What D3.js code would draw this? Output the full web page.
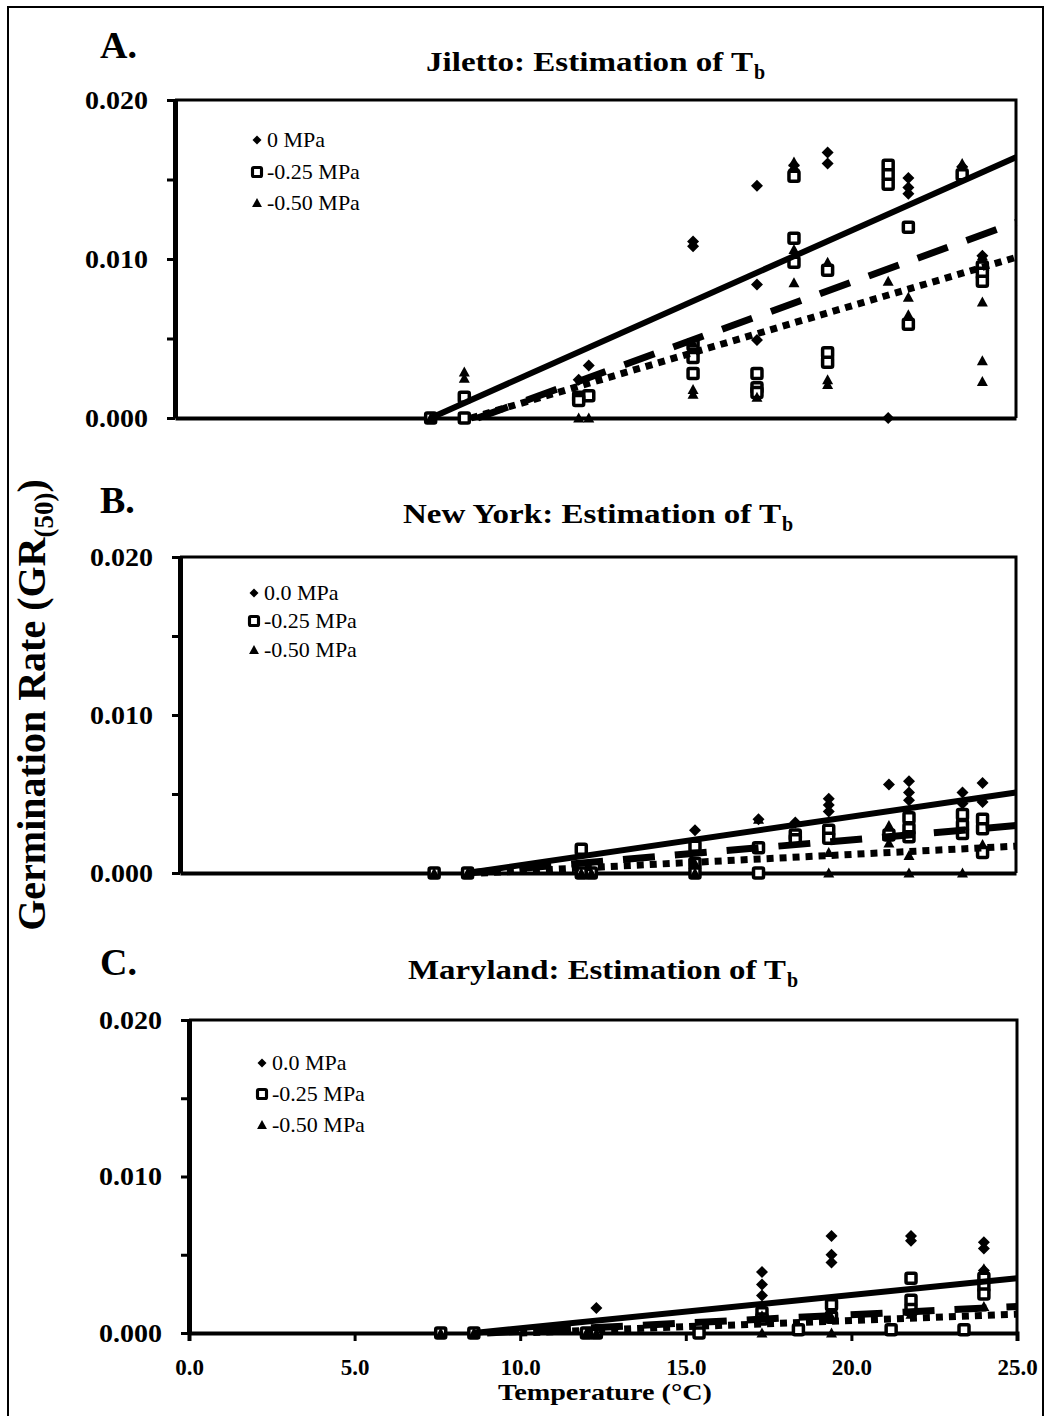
<!DOCTYPE html>
<html>
<head>
<meta charset="utf-8">
<title>Germination rate vs temperature: estimation of Tb</title>
<script src="https://d3js.org/d3.v7.min.js"></script>
<style>
  body { margin: 0; background: #fff; }
  svg text { font-family: "Liberation Serif", "Times New Roman", serif; fill: #000; }
</style>
</head>
<body>
<svg id="chart" width="1050" height="1416"></svg>
<script>
// axis values
const xTicks = [0, 5, 10, 15, 20, 25];
const yTicks = [0, 0.005, 0.010, 0.015, 0.020];
const yLabelled = [0, 0.010, 0.020];

// Jiletto: [temperature, GR50]
const jiletto0 = [[7.6,0],[12.0,0.0024],[12.3,0.0033],[15.4,0.0111],[15.4,0.0108],[17.3,0.0146],[17.3,0.0084],[17.3,0.0049],
  [18.4,0.0159],[18.4,0.0156],[19.4,0.0167],[19.4,0.0160],[21.2,0],[21.2,0.0157],[21.8,0.0151],[21.8,0.0145],[21.8,0.0141],
  [23.4,0.0158],[24.0,0.0102],[24.0,0.0098]];
const jiletto25 = [[7.6,0],[8.6,0.0013],[8.6,0],[12.0,0.0013],[12.3,0.0014],[12.0,0.0011],[15.4,0.0046],[15.4,0.0038],[15.4,0.0028],
  [17.3,0.0028],[17.3,0.0019],[17.3,0.0016],[18.4,0.0152],[18.4,0.0113],[18.4,0.0098],[19.4,0.0093],[19.4,0.0041],[19.4,0.0035],
  [21.2,0.0159],[21.2,0.0153],[21.2,0.0147],[21.8,0.0120],[21.8,0.0059],[23.4,0.0153],[24.0,0.0095],[24.0,0.0091],[24.0,0.0086]];
const jiletto50 = [[7.6,0],[8.6,0.0029],[8.6,0.0025],[12.0,0],[12.3,0],[15.4,0.0018],[15.4,0.0015],[15.4,0.0047],[17.3,0.0013],
  [18.4,0.0161],[18.4,0.0106],[18.4,0.0085],[19.4,0.0098],[19.4,0.0024],[19.4,0.0021],[21.2,0.0086],[21.8,0.0076],[21.8,0.0065],
  [23.4,0.0160],[24.0,0.0102],[24.0,0.0073],[24.0,0.0036],[24.0,0.0023]];
// fitted lines: [start T, start GR, end T, end GR] for 0, -0.25, -0.50 MPa
const jilettoFits = [[7.6,0,25,0.0164],[9.0,0,25,0.0123],[8.8,0,25,0.0101]];

// New York
const newYork0 = [[7.6,0],[8.6,0],[15.4,0.0027],[17.3,0.0034],[18.4,0.0032],[19.4,0.0047],[19.4,0.0043],[19.4,0.0039],
  [21.2,0.0056],[21.8,0.0058],[21.8,0.0051],[21.8,0.0046],[23.4,0.0051],[23.4,0.0044],[24.0,0.0057],[24.0,0.0045]];
const newYork25 = [[7.6,0],[8.6,0],[12.0,0.0015],[12.0,0],[12.3,0],[15.4,0.0017],[15.4,0.0006],[15.4,0],[17.3,0.0016],[17.3,0],
  [18.4,0.0024],[18.4,0.0021],[19.4,0.0027],[19.4,0.0022],[21.2,0.0024],[21.8,0.0035],[21.8,0.0028],[21.8,0.0023],
  [23.4,0.0037],[23.4,0.0030],[23.4,0.0025],[24.0,0.0034],[24.0,0.0028],[24.0,0.0013]];
const newYork50 = [[7.6,0],[8.6,0],[12.0,0],[12.3,0],[15.4,0.0006],[15.4,0],[17.3,0.0034],[18.4,0.0032],[19.4,0.0013],[19.4,0],
  [21.2,0.0030],[21.2,0.0019],[21.8,0.0011],[21.8,0],[23.4,0],[24.0,0.0018]];
const newYorkFits = [[8.6,0,25,0.0051],[8.6,0,25,0.0030],[9.0,0,25,0.0017]];

// Maryland
const maryland0 = [[7.6,0],[8.6,0],[12.3,0.0016],[17.3,0.0039],[17.3,0.0031],[17.3,0.0024],[19.4,0.0062],[19.4,0.0050],[19.4,0.0045],
  [21.8,0.0062],[21.8,0.0059],[24.0,0.0058],[24.0,0.0054],[24.0,0.0040]];
const maryland25 = [[7.6,0],[8.6,0],[12.0,0],[12.3,0],[15.4,0],[17.3,0.0013],[17.3,0.0009],[18.4,0.0002],[19.4,0.0018],[19.4,0.0010],
  [21.2,0.0002],[21.8,0.0035],[21.8,0.0021],[21.8,0.0015],[23.4,0.0002],[24.0,0.0035],[24.0,0.0030],[24.0,0.0025]];
const maryland50 = [[7.6,0],[8.6,0],[12.0,0],[12.3,0],[17.3,0],[17.3,0.0011],[19.4,0],[19.4,0.0010],[21.8,0.0012],[24.0,0.0041],[24.0,0.0017]];
const marylandFits = [[8.6,0,25,0.0035],[9.0,0,25,0.0017],[10.0,0,25,0.0012]];

const panels = [
  { letter: 'A.', title: 'Jiletto: Estimation of T', legend: ['0 MPa', '-0.25 MPa', '-0.50 MPa'],
    series: [jiletto0, jiletto25, jiletto50], fits: jilettoFits,
    left: 175, right: 1016, top: 100, bottom: 418, titleY: 71, titleW: 327, letterY: 58,
    legX: 257, legY: [140, 172, 203], xAxis: false },
  { letter: 'B.', title: 'New York: Estimation of T', legend: ['0.0 MPa', '-0.25 MPa', '-0.50 MPa'],
    series: [newYork0, newYork25, newYork50], fits: newYorkFits,
    left: 180, right: 1016, top: 557, bottom: 873, titleY: 523, titleW: 378, letterY: 513,
    legX: 254, legY: [593, 621, 650], xAxis: false },
  { letter: 'C.', title: 'Maryland: Estimation of T', legend: ['0.0 MPa', '-0.25 MPa', '-0.50 MPa'],
    series: [maryland0, maryland25, maryland50], fits: marylandFits,
    left: 189, right: 1017, top: 1020, bottom: 1333, titleY: 979, titleW: 378, letterY: 975,
    legX: 262, legY: [1063, 1094, 1125], xAxis: true }
];

const svg = d3.select('#chart');

// outer frame
svg.append('rect').attr('x', 8).attr('y', 7).attr('width', 1035).attr('height', 1440)
  .attr('fill', 'none').attr('stroke', '#000').attr('stroke-width', 2);

// marker shapes
const diamondPath = 'M0,-6L6,0L0,6L-6,0Z';
const trianglePath = 'M0,-5.5L5.5,4.5L-5.5,4.5Z';

function drawMarker(sel, kind) {
  if (kind === 0) {
    sel.append('path').attr('d', diamondPath).attr('fill', '#000');
  } else if (kind === 1) {
    sel.append('rect').attr('x', -5).attr('y', -5).attr('width', 10).attr('height', 10)
      .attr('fill', '#fff').attr('stroke', '#000').attr('stroke-width', 3.5).attr('rx', 1.5);
  } else {
    sel.append('path').attr('d', trianglePath).attr('fill', '#000');
  }
}

const dashes = [null, '32,20', '7,6'];

panels.forEach(p => {
  const x = d3.scaleLinear().domain([0, 25]).range([p.left, p.right]);
  const y = d3.scaleLinear().domain([0, 0.02]).range([p.bottom, p.top]);
  const g = svg.append('g');

  // panel letter and title
  g.append('text').attr('x', 100).attr('y', p.letterY).text(p.letter)
    .style('font-size', '38px').style('font-weight', 'bold');
  const cx = (p.left + p.right) / 2;
  const x0 = cx - (p.titleW + 12) / 2;
  g.append('text').attr('x', x0).attr('y', p.titleY).text(p.title)
    .attr('textLength', p.titleW).attr('lengthAdjust', 'spacingAndGlyphs')
    .style('font-size', '27px').style('font-weight', 'bold');
  g.append('text').attr('x', x0 + p.titleW + 1).attr('y', p.titleY + 8).text('b')
    .style('font-size', '20px').style('font-weight', 'bold');

  // top and right frame
  g.append('path').attr('d', `M${p.left},${p.top}H${p.right}V${p.bottom}`)
    .attr('fill', 'none').attr('stroke', '#000').attr('stroke-width', 3);

  // y axis
  const ya = g.append('g').attr('transform', `translate(${p.left},0)`)
    .call(d3.axisLeft(y).tickValues(yTicks).tickSize(8).tickSizeOuter(0).tickPadding(19)
      .tickFormat(d => yLabelled.some(v => Math.abs(v - d) < 1e-9) ? d3.format('.3f')(d) : ''));
  ya.select('.domain').attr('stroke-width', 5);
  ya.selectAll('.tick line').attr('stroke-width', 3);
  ya.selectAll('.tick text').style('font-size', '25px').style('font-weight', 'bold')
    .style('font-family', '"Liberation Serif", serif')
    .each(function () { if (this.textContent) d3.select(this).attr('textLength', 63).attr('lengthAdjust', 'spacingAndGlyphs'); });

  // x axis
  const xAxis = d3.axisBottom(x).tickSizeOuter(0);
  if (p.xAxis) xAxis.tickValues(xTicks).tickSize(8).tickPadding(18).tickFormat(d3.format('.1f'));
  else xAxis.tickValues([]);
  const xa = g.append('g').attr('transform', `translate(0,${p.bottom})`).call(xAxis);
  xa.select('.domain').attr('stroke-width', 4);
  xa.selectAll('.tick line').attr('stroke-width', 3);
  xa.selectAll('.tick text').style('font-size', '23px').style('font-weight', 'bold')
    .style('font-family', '"Liberation Serif", serif');

  // markers
  p.series.forEach((pts, k) => {
    g.append('g').selectAll('g').data(pts).join('g')
      .attr('transform', d => `translate(${x(d[0])},${y(d[1])})`)
      .each(function () { drawMarker(d3.select(this), k); });
  });

  // fitted lines
  p.fits.forEach((f, k) => {
    g.append('line')
      .attr('x1', x(f[0])).attr('y1', y(f[1])).attr('x2', x(f[2])).attr('y2', y(f[3]))
      .attr('stroke', '#000').attr('stroke-width', k === 0 ? 6 : 7)
      .attr('stroke-dasharray', dashes[k]);
  });

  // legend
  p.legend.forEach((name, k) => {
    const lg = g.append('g').attr('transform', `translate(${p.legX},${p.legY[k]})`);
    drawMarker(lg.append('g').attr('transform', k === 0 ? 'scale(0.75)' : 'scale(0.9)'), k);
    lg.append('text').attr('x', 10).attr('y', 7).text(name).style('font-size', '22px');
  });
});

// shared axis titles
svg.append('text').attr('transform', 'translate(45,705) rotate(-90)')
  .attr('text-anchor', 'middle').style('font-size', '40px').style('font-weight', 'bold')
  .call(t => {
    t.append('tspan').text('Germination Rate (GR');
    t.append('tspan').text('(50)').style('font-size', '27px').attr('dy', 8);
    t.append('tspan').text(')').attr('dy', -8);
  });

svg.append('text').attr('x', 605).attr('y', 1400).attr('text-anchor', 'middle')
  .attr('textLength', 214).attr('lengthAdjust', 'spacingAndGlyphs')
  .style('font-size', '24px').style('font-weight', 'bold').text('Temperature (°C)');
</script>
</body>
</html>
